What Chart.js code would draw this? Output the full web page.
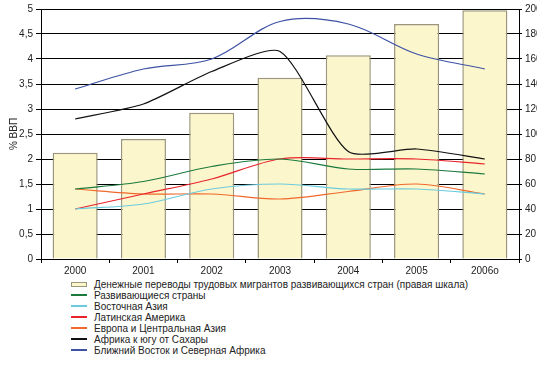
<!DOCTYPE html>
<html>
<head>
<meta charset="utf-8">
<script src="https://cdn.jsdelivr.net/npm/chart.js@4.4.1/dist/chart.umd.min.js"></script>
<style>
  html, body { margin: 0; padding: 0; background: #fff; overflow: hidden; }
  #wrap { position: relative; width: 553px; height: 373px; overflow: hidden; }
  #box { position: absolute; left: 0; top: 0; width: 537px; height: 275px; overflow: hidden; }
  #legend { position: absolute; left: 71px; top: 279px; font: 10px "Liberation Sans", Arial, sans-serif; color: #222; }
  .row { height: 11px; line-height: 11px; white-space: nowrap; position: relative; padding-left: 23px; }
  .mark { position: absolute; left: 0; }
</style>
</head>
<body>
<div id="wrap">
  <div id="box"><canvas id="chart" width="565" height="275"></canvas></div>
  <div id="legend"></div>
</div>
<script>
// years on the x axis
const years = ['2000', '2001', '2002', '2003', '2004', '2005', '2006o'];

// remittances, right scale
const remittances = [85, 96, 117, 145, 163, 188, 199];

// % of GDP, left scale
const developing   = [1.4, 1.55, 1.85, 2.0, 1.8, 1.8, 1.7];
const eastAsia     = [1.0, 1.1, 1.4, 1.5, 1.4, 1.4, 1.3];
const latinAmerica = [1.0, 1.3, 1.6, 2.0, 2.0, 2.0, 1.9];
const europeCA     = [1.4, 1.3, 1.3, 1.2, 1.35, 1.5, 1.3];
const subSahara    = [2.8, 3.1, 3.75, 4.15, 2.15, 2.2, 2.0];
const mena         = [3.4, 3.8, 4.0, 4.75, 4.7, 4.1, 3.8];

const font = { family: '"Liberation Sans", Arial, sans-serif', size: 10 };
const textColor = '#222';

function lineSet(label, data, color, tension) {
  return {
    type: 'line',
    label: label,
    data: data,
    borderColor: color,
    backgroundColor: color,
    borderWidth: 1.2,
    pointRadius: 0,
    tension: tension || 0.33,
    fill: false,
    yAxisID: 'y',
    order: 0
  };
}

const datasets = [
  {
    type: 'bar',
    label: 'Денежные переводы трудовых мигрантов развивающихся стран (правая шкала)',
    data: remittances,
    backgroundColor: '#fcf6cd',
    borderColor: '#9b9678',
    borderWidth: 1.5,
    barPercentage: 0.66,
    categoryPercentage: 1,
    yAxisID: 'y1',
    order: 1
  },
  lineSet('Развивающиеся страны', developing, '#1b7a3c'),
  lineSet('Восточная Азия', eastAsia, '#6ccbdc'),
  lineSet('Латинская Америка', latinAmerica, '#e8232a'),
  lineSet('Европа и Центральная Азия', europeCA, '#f0682a'),
  lineSet('Африка к югу от Сахары', subSahara, '#111111', 0.22),
  lineSet('Ближний Восток и Северная Африка', mena, '#3d52a4')
];

new Chart(document.getElementById('chart'), {
  type: 'bar',
  data: { labels: years, datasets: datasets },
  options: {
    responsive: false,
    animation: false,
    layout: { padding: { top: 7 } },
    plugins: {
      legend: { display: false },
      tooltip: { enabled: false }
    },
    scales: {
      x: {
        grid: { drawOnChartArea: false, color: '#000', tickLength: 4, offset: true },
        border: { color: '#000' },
        ticks: { color: textColor, font: font, padding: 2, maxRotation: 0, autoSkip: false },
        afterFit: s => { s.height = 16; }
      },
      y: {
        position: 'left',
        min: 0,
        max: 5,
        ticks: {
          stepSize: 0.5,
          color: textColor,
          font: font,
          padding: 3,
          callback: v => String(Math.round(v * 10) / 10).replace('.', ',')
        },
        grid: { color: '#000', lineWidth: 1, tickLength: 5 },
        border: { color: '#000' },
        title: { display: true, text: '% ВВП', color: textColor, font: font, padding: { top: 8, bottom: 0 } },
        afterFit: s => { s.width = 41; }
      },
      y1: {
        position: 'right',
        min: 0,
        max: 200,
        ticks: { stepSize: 20, color: textColor, font: font, padding: 3 },
        grid: { drawOnChartArea: false, color: '#000', tickLength: 3 },
        border: { color: '#000' },
        afterFit: s => { s.width = 46; }
      }
    }
  }
});

// legend: one entry per row, built from the datasets
const legend = document.getElementById('legend');
datasets.forEach(d => {
  const row = document.createElement('div');
  row.className = 'row';
  const mark = document.createElement('span');
  mark.className = 'mark';
  if (d.type === 'bar') {
    mark.style.cssText = 'top:3px;width:14px;height:3px;background:' + d.backgroundColor + ';border:1px solid ' + d.borderColor;
  } else {
    mark.style.cssText = 'top:4px;width:16px;height:2px;background:' + d.borderColor;
  }
  row.appendChild(mark);
  row.appendChild(document.createTextNode(d.label));
  legend.appendChild(row);
});
</script>
</body>
</html>
